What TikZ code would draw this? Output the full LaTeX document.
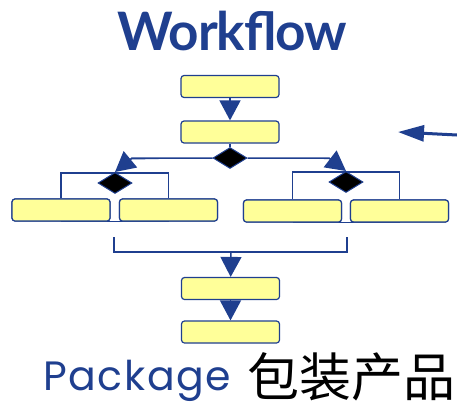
\documentclass[tikz,border=0pt]{standalone}
\usepackage{fontspec}
\setsansfont{Poppins}
\newfontfamily\titlefont[LetterSpace=-2]{Lato}
\newfontfamily\pkgfont[LetterSpace=4]{Poppins}
\newfontfamily\cjk{Noto Sans CJK SC}
\usepackage{tikz}
\usetikzlibrary{positioning, arrows.meta, shapes.geometric}
\definecolor{flowblue}{HTML}{1F3F8F}
\definecolor{flowyellow}{HTML}{FFFF99}
\tikzstyle{stepbox} = [rectangle, rounded corners=3pt, minimum width=98pt,
minimum height=22pt, inner sep=0pt, draw=flowblue, fill=flowyellow, line width=1.2pt]
\tikzstyle{choice} = [diamond, minimum width=34pt, minimum height=21pt,
inner sep=0pt, draw=flowblue, fill=black, line width=1pt]
\tikzstyle{wire} = [line width=1.3pt, draw=flowblue]
\tikzstyle{arrow} = [line width=1.5pt, draw=flowblue, fill=flowblue,
-{Triangle[length=20pt,width=21pt]}]

\begin{document}
\begin{tikzpicture}[x=1pt, y=-1pt, every node/.style={font=\sffamily}]
\useasboundingbox (0,0) rectangle (457,407);
% title
\node[anchor=base, inner sep=0pt, text=flowblue, font=\titlefont\bfseries\fontsize{53}{53}\selectfont] (title) at (232,50) {Workflow};
% main line
\node[stepbox] (s1) at (230,86.5) {};
\node[stepbox] (s2) at (230,132) {};
\node[choice] (d0) at (230,158) {};
\draw[wire] (s2) -- (d0);
\draw[arrow] (s1) -- (s2);
% left branch
\node[stepbox] (la) at (61,210) {};
\node[stepbox] (lb) at (168.5,210) {};
\draw[wire] (la.south) -- (lb.south);
\draw[wire] (la.north) |- (115,173) -| (lb.north);
\node[stepbox] (la) at (61,210) {};
\node[stepbox] (lb) at (168.5,210) {};
\node[choice] (dl) at (115,183) {};
% right branch
\node[stepbox] (rc) at (292.5,211) {};
\node[stepbox] (rd) at (399.5,211) {};
\draw[wire] (rc.south) -- (rd.south);
\draw[wire] (rc.north) |- (346,172) -| (rd.north);
\node[stepbox] (rc) at (292.5,211) {};
\node[stepbox] (rd) at (399.5,211) {};
\node[choice] (dr) at (346,182) {};
% split arrows
\draw[arrow] (d0.west) -- (132,158) -- (dl.north);
\draw[arrow] (d0.east) -- (329,158) -- (dr.north);
% merge
\coordinate (mL) at (114,237);
\coordinate (mR) at (347,237);
\coordinate (mj) at (231,252);
\draw[wire] (mL) |- (mj) -| (mR);
\node[stepbox] (s3) at (230.5,288.5) {};
\node[stepbox] (s4) at (230.5,332) {};
\draw[arrow] (mj) -- (s3);
\draw[arrow] (s3) -- (s4);
% side pointer
\coordinate (ptail) at (457,135);
\coordinate (phead) at (398,132);
\draw[line width=3pt, draw=flowblue, -{Triangle[length=26pt,width=16pt]}] (ptail) -- (phead);
% caption
\node[anchor=base west, inner sep=0pt, text=flowblue, font=\pkgfont\fontsize{41}{41}\selectfont] (pkg) at (43,390) {Package};
\node[anchor=base west, inner sep=0pt, font=\cjk\fontsize{52}{52}\selectfont] (pkgcn) at (247,396) {包装产品};
\end{tikzpicture}
\end{document}
